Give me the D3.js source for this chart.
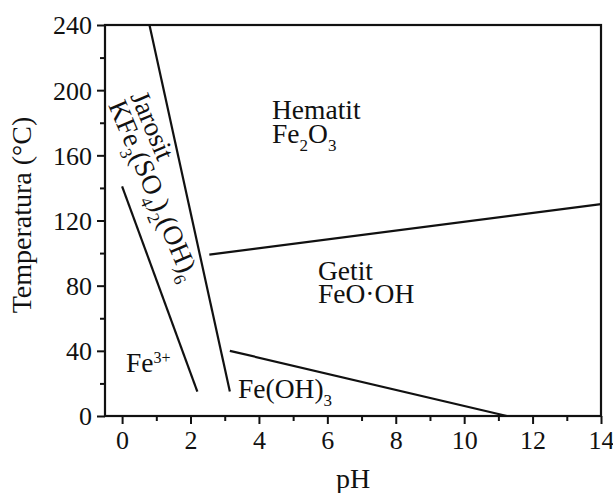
<!DOCTYPE html>
<html>
<head>
<meta charset="utf-8">
<script src="https://cdn.jsdelivr.net/npm/d3@7"></script>
<style>
  html, body { margin: 0; padding: 0; background: #fff; }
  svg { display: block; }
  text { font-family: "Liberation Serif", "Times New Roman", serif; fill: #111; }
</style>
</head>
<body>
<svg id="chart" width="613" height="493"></svg>
<script>
// ---- data ----
const xDomain = [-0.5, 14];
const yDomain = [0, 240];
const xMajorTicks = [0, 2, 4, 6, 8, 10, 12, 14];
const xMinorTicks = [1, 3, 5, 7, 9, 11, 13];
const yMajorTicks = [0, 40, 80, 120, 160, 200, 240];
const yMinorTicks = [20, 60, 100, 140, 180, 220];
// phase boundaries [pH, T(°C)]
const jarositeUpperBoundary = [[0.8, 240], [3.15, 15]];
const fe3JarositeBoundary = [[0, 141], [2.2, 15]];
const hematiteGoethiteBoundary = [[2.55, 99], [14, 130]];
const goethiteFeOH3Boundary = [[3.15, 40], [11.25, 0]];
const xTitle = "pH";
const yTitle = "Temperatura (°C)";

// ---- layout ----
const svg = d3.select("#chart");
const mLeft = 105, mRight = 601, mTop = 25, mBottom = 416;
const x = d3.scaleLinear().domain(xDomain).range([mLeft, mRight]);
const y = d3.scaleLinear().domain(yDomain).range([mBottom, mTop]);
const FS_TICK = 26, FS_LABEL = 27.5, FS_TITLE = 28;

// axes
const xAxis = svg.append("g").attr("transform", `translate(0,${mBottom})`)
  .call(d3.axisBottom(x).tickValues(xMajorTicks).tickSize(8).tickPadding(7).tickFormat(d3.format("d")));
const xMinor = svg.append("g").attr("transform", `translate(0,${mBottom})`)
  .call(d3.axisBottom(x).tickValues(xMinorTicks).tickSize(5).tickFormat(""));
const yAxis = svg.append("g").attr("transform", `translate(${mLeft},0)`)
  .call(d3.axisLeft(y).tickValues(yMajorTicks).tickSize(8).tickPadding(5).tickFormat(d3.format("d")));
const yMinor = svg.append("g").attr("transform", `translate(${mLeft},0)`)
  .call(d3.axisLeft(y).tickValues(yMinorTicks).tickSize(5).tickFormat(""));
[xAxis, xMinor, yAxis, yMinor].forEach(g => {
  g.select(".domain").remove();
  g.selectAll(".tick line").attr("stroke", "#111").attr("stroke-width", 2);
  g.selectAll(".tick text").attr("font-size", FS_TICK).attr("font-family", "Liberation Serif").attr("fill", "#111");
});
yAxis.selectAll(".tick text").attr("dy", "0.34em");

// frame
svg.append("rect").attr("x", mLeft).attr("y", mTop)
  .attr("width", mRight - mLeft).attr("height", mBottom - mTop)
  .attr("fill", "none").attr("stroke", "#111").attr("stroke-width", 2.2);

// boundaries
const line = d3.line().x(d => x(d[0])).y(d => y(d[1]));
[jarositeUpperBoundary, fe3JarositeBoundary, hematiteGoethiteBoundary, goethiteFeOH3Boundary].forEach(b => {
  svg.append("path").attr("d", line(b)).attr("fill", "none")
    .attr("stroke", "#111").attr("stroke-width", 2.2);
});

// text helper: parts = [[text, kind]] kind: n normal, s sub, p super
function rich(g, px, py, parts, rot) {
  const t = g.append("text").attr("font-size", FS_LABEL)
    .attr("transform", `translate(${px},${py})` + (rot ? ` rotate(${rot})` : ""));
  let shift = 0;
  parts.forEach(([s, k]) => {
    const ts = t.append("tspan").text(s);
    let target = 0;
    if (k === "s") { ts.attr("font-size", 17); target = 8; }
    else if (k === "p") { ts.attr("font-size", 16); target = -9; }
    ts.attr("dy", target - shift);
    shift = target;
  });
  return t;
}
const labels = svg.append("g");
rich(labels, 272, 119, [["Hematit", "n"]]);
rich(labels, 272, 143, [["Fe", "n"], ["2", "s"], ["O", "n"], ["3", "s"]]);
rich(labels, 318, 280, [["Getit", "n"]]);
rich(labels, 318, 303, [["FeO·OH", "n"]]);
rich(labels, 126, 372, [["Fe", "n"], ["3+", "p"]]);
rich(labels, 238, 398, [["Fe(OH)", "n"], ["3", "s"]]);
rich(labels, 130, 96, [["Jarosit", "n"]], 67);
rich(labels, 108, 105, [["KFe", "n"], ["3", "s"], ["(SO", "n"], ["4", "s"], [")", "n"], ["2", "s"], ["(OH)", "n"], ["6", "s"]], 67);

// titles
svg.append("text").attr("x", 353).attr("y", 488).attr("text-anchor", "middle")
  .attr("font-size", FS_TITLE).text(xTitle);
svg.append("text").attr("transform", "translate(31,215) rotate(-90)")
  .attr("text-anchor", "middle").attr("font-size", FS_TITLE).text(yTitle);
</script>
</body>
</html>
